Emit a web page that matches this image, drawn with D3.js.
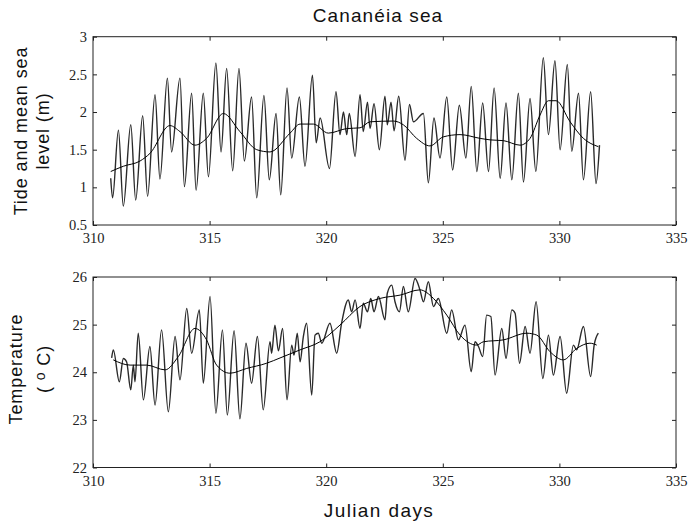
<!DOCTYPE html>
<html>
<head>
<meta charset="utf-8">
<script src="https://cdn.jsdelivr.net/npm/d3@7"></script>
<style>
  body { margin: 0; background: #fff; }
  svg { display: block; }
  .tick text { font-family: "Liberation Serif", "Times New Roman", serif; font-size: 14.5px; fill: #222; }
  .lbl { font-family: "Liberation Sans", Arial, sans-serif; fill: #111; }
</style>
</head>
<body>
<svg id="chart" width="688" height="523"></svg>
<script>
// x ticks shared by both panels
var dayTicks = [310, 315, 320, 325, 330, 335];
var tideTicks = [0.5, 1, 1.5, 2, 2.5, 3];
var tempTicks = [22, 23, 24, 25, 26];

// tide: high / low turning points
var tideDays = [310.76, 310.84, 311.09, 311.30, 311.62, 311.83, 312.13, 312.34, 312.66, 312.87,
  313.19, 313.37, 313.73, 313.92, 314.23, 314.42, 314.73, 314.95, 315.27, 315.49,
  315.73, 315.99, 316.26, 316.49, 316.80, 317.02, 317.33, 317.56, 317.85, 318.05,
  318.32, 318.52, 318.85, 319.09, 319.41, 319.57, 319.74, 320.14, 320.42, 320.59,
  320.74, 320.88, 320.99, 321.24, 321.45, 321.59, 321.77, 321.88, 322.05, 322.28,
  322.52, 322.62, 322.78, 322.91, 323.11, 323.38, 323.57, 323.74, 324.17, 324.38,
  324.62, 324.88, 325.17, 325.42, 325.71, 325.99, 326.22, 326.46, 326.71, 326.96,
  327.20, 327.46, 327.71, 327.96, 328.24, 328.46, 328.74, 328.99, 329.31, 329.53,
  329.81, 330.03, 330.34, 330.53, 330.82, 331.03, 331.34, 331.57, 331.72];
var tideLevel = [1.12, 0.86, 1.76, 0.75, 1.83, 0.83, 1.95, 0.88, 2.23, 1.11,
  2.45, 1.47, 2.45, 1.01, 2.25, 0.96, 2.25, 1.14, 2.65, 1.47,
  2.58, 1.22, 2.58, 1.35, 2.20, 0.86, 2.22, 1.10, 1.98, 0.90,
  2.32, 1.39, 2.20, 1.28, 2.49, 1.59, 1.92, 1.25, 2.27, 1.70,
  2.00, 1.70, 1.98, 1.41, 2.23, 1.74, 2.13, 1.78, 2.11, 1.50,
  2.21, 1.83, 2.13, 1.75, 2.21, 1.36, 2.10, 1.87, 1.98, 1.06,
  1.92, 1.39, 2.20, 1.23, 2.09, 1.39, 2.34, 1.21, 2.12, 1.21,
  2.32, 1.12, 2.12, 1.10, 2.25, 1.07, 2.18, 1.21, 2.72, 1.70,
  2.68, 1.50, 2.63, 1.48, 2.25, 1.10, 2.27, 1.05, 1.56];

// mean sea level (filtered)
var meanTideDays = [310.76, 311.30, 312.02, 312.44, 313.30, 313.73, 314.37, 314.87, 315.59, 316.30,
  317.02, 317.59, 318.45, 318.88, 319.45, 320.09, 320.88, 321.45, 321.88, 322.88,
  323.31, 323.88, 324.45, 325.02, 325.74, 326.60, 327.03, 327.60, 328.31, 328.74,
  329.17, 329.53, 329.86, 330.46, 331.03, 331.67];
var meanTideLevel = [1.21, 1.28, 1.35, 1.45, 1.82, 1.74, 1.56, 1.65, 1.98, 1.74,
  1.50, 1.47, 1.72, 1.84, 1.84, 1.72, 1.78, 1.79, 1.87, 1.88,
  1.83, 1.65, 1.55, 1.67, 1.70, 1.65, 1.63, 1.62, 1.56, 1.65,
  1.96, 2.15, 2.15, 1.87, 1.65, 1.54];

// sea temperature turning points
var tempDays = [310.80, 310.87, 311.13, 311.30, 311.44, 311.62, 311.73, 311.80, 311.94, 312.16,
  312.44, 312.66, 312.94, 313.23, 313.52, 313.73, 314.02, 314.23, 314.56, 314.73,
  315.02, 315.27, 315.55, 315.76, 316.05, 316.30, 316.56, 316.80, 317.05, 317.30,
  317.59, 317.66, 317.80, 317.95, 318.13, 318.32, 318.52, 318.62, 318.76, 318.88,
  319.02, 319.16, 319.38, 319.52, 319.66, 319.81, 320.16, 320.45, 320.66, 320.95,
  321.09, 321.24, 321.45, 321.59, 321.77, 321.91, 322.05, 322.24, 322.52, 322.62,
  322.81, 322.95, 323.14, 323.31, 323.52, 323.81, 324.02, 324.17, 324.38, 324.60,
  324.81, 325.17, 325.38, 325.67, 325.95, 326.22, 326.38, 326.53, 326.71, 326.88,
  327.06, 327.24, 327.53, 327.71, 327.96, 328.10, 328.29, 328.53, 328.74, 329.00,
  329.29, 329.53, 329.74, 330.03, 330.31, 330.60, 330.74, 331.03, 331.34, 331.49,
  331.67];
var tempValue = [24.30, 24.47, 23.80, 24.29, 24.22, 23.63, 24.15, 23.80, 24.82, 23.42,
  24.54, 23.31, 24.89, 23.17, 24.75, 23.84, 25.34, 24.40, 25.31, 23.77,
  25.59, 23.14, 24.89, 23.10, 24.87, 23.02, 24.61, 23.77, 24.75, 23.21,
  24.64, 24.40, 24.99, 24.45, 24.92, 23.42, 24.57, 24.36, 24.82, 24.22,
  24.75, 25.03, 23.52, 24.78, 24.82, 24.61, 25.03, 24.40, 25.03, 25.52,
  25.27, 25.52, 24.92, 25.45, 25.27, 25.55, 25.27, 25.59, 25.10, 25.66,
  25.83, 25.48, 25.27, 25.80, 25.27, 25.97, 25.73, 25.48, 25.90, 25.38,
  25.55, 24.82, 25.31, 24.68, 24.99, 24.01, 24.64, 24.54, 24.33, 25.20,
  25.17, 23.94, 24.92, 24.29, 25.31, 25.24, 24.19, 24.96, 24.40, 25.48,
  23.87, 24.78, 23.94, 24.75, 23.56, 24.57, 24.47, 24.96, 23.91, 24.57,
  24.82];

var meanTempDays = [310.87, 311.59, 312.30, 313.09, 313.66, 314.37, 314.87, 315.30, 315.87, 316.59,
  317.45, 318.02, 318.88, 319.73, 320.59, 321.45, 322.31, 323.17, 324.02, 324.60,
  325.17, 325.74, 326.45, 326.74, 327.60, 328.60, 329.03, 329.60, 330.17, 330.74,
  331.31, 331.60];
var meanTempValue = [24.26, 24.15, 24.15, 24.05, 24.33, 24.92, 24.68, 24.15, 23.98, 24.08,
  24.19, 24.30, 24.47, 24.64, 24.99, 25.38, 25.55, 25.62, 25.73, 25.55,
  25.20, 24.78, 24.57, 24.64, 24.68, 24.82, 24.78, 24.43, 24.26, 24.50,
  24.61, 24.57];

var svg = d3.select('#chart');
var left = 93, right = 676;
var tickLen = 4;

var x = d3.scaleLinear().domain([310, 335]).range([left, right]);

function zip(days, vals) {
  return days.map(function (d, i) { return [d, vals[i]]; });
}

function drawPanel(y, yTicks, raw, mean) {
  var top = y.range()[1], bottom = y.range()[0];
  var g = svg.append('g');

  // box
  g.append('rect')
    .attr('x', left).attr('y', top)
    .attr('width', right - left).attr('height', bottom - top)
    .attr('fill', 'none').attr('stroke', '#222').attr('stroke-width', 1);

  // ticks inside, matlab style
  var axB = g.append('g').attr('transform', 'translate(0,' + bottom + ')')
    .call(d3.axisBottom(x).tickValues(dayTicks).tickSize(-tickLen).tickPadding(8));
  var axT = g.append('g').attr('transform', 'translate(0,' + top + ')')
    .call(d3.axisTop(x).tickValues(dayTicks).tickSize(-tickLen).tickFormat(''));
  var axL = g.append('g').attr('transform', 'translate(' + left + ',0)')
    .call(d3.axisLeft(y).tickValues(yTicks).tickSize(-tickLen).tickPadding(6).tickFormat(function (d) { return d; }));
  var axR = g.append('g').attr('transform', 'translate(' + right + ',0)')
    .call(d3.axisRight(y).tickValues(yTicks).tickSize(-tickLen).tickFormat(''));
  [axB, axT, axL, axR].forEach(function (a) {
    a.select('.domain').remove();
    a.selectAll('.tick line').attr('stroke', '#222');
  });

  var line = d3.line()
    .x(function (d) { return x(d[0]); })
    .y(function (d) { return y(d[1]); })
    .curve(d3.curveMonotoneX);

  g.append('path')
    .attr('d', line(raw))
    .attr('fill', 'none')
    .attr('stroke', '#2a2a2a')
    .attr('stroke-width', 1.4);

  g.append('path')
    .attr('d', line(mean))
    .attr('fill', 'none')
    .attr('stroke', '#000')
    .attr('stroke-width', 1);
}

var yTide = d3.scaleLinear().domain([0.5, 3]).range([225, 36.7]);
var yTemp = d3.scaleLinear().domain([22, 26]).range([467.5, 277]);

drawPanel(yTide, tideTicks, zip(tideDays, tideLevel), zip(meanTideDays, meanTideLevel));
drawPanel(yTemp, tempTicks, zip(tempDays, tempValue), zip(meanTempDays, meanTempValue));

// titles and labels (the original text runs wide, hence the letter spacing)
svg.append('text').attr('class', 'lbl')
  .attr('x', 378).attr('y', 22)
  .attr('text-anchor', 'middle').attr('font-size', 19)
  .attr('letter-spacing', 1.1)
  .text('Cananéia sea');

svg.append('text').attr('class', 'lbl')
  .attr('x', 379).attr('y', 517)
  .attr('text-anchor', 'middle').attr('font-size', 19)
  .attr('letter-spacing', 1.4)
  .text('Julian days');

function yLabel(cx, cy, text) {
  return svg.append('text').attr('class', 'lbl')
    .attr('transform', 'translate(' + cx + ',' + cy + ') rotate(-90)')
    .attr('text-anchor', 'middle').attr('font-size', 18)
    .attr('letter-spacing', 0.9)
    .text(text);
}
yLabel(27, 131, 'Tide and mean sea');
yLabel(49, 131, 'level (m)');
yLabel(22, 369, 'Temperature');

var deg = svg.append('text').attr('class', 'lbl')
  .attr('transform', 'translate(50,369) rotate(-90)')
  .attr('text-anchor', 'middle').attr('font-size', 18)
  .attr('letter-spacing', 0.9);
deg.append('tspan').text('( ');
deg.append('tspan').attr('font-size', 14).attr('dy', -5).text('o');
deg.append('tspan').attr('dy', 5).text(' C)');
</script>
</body>
</html>
